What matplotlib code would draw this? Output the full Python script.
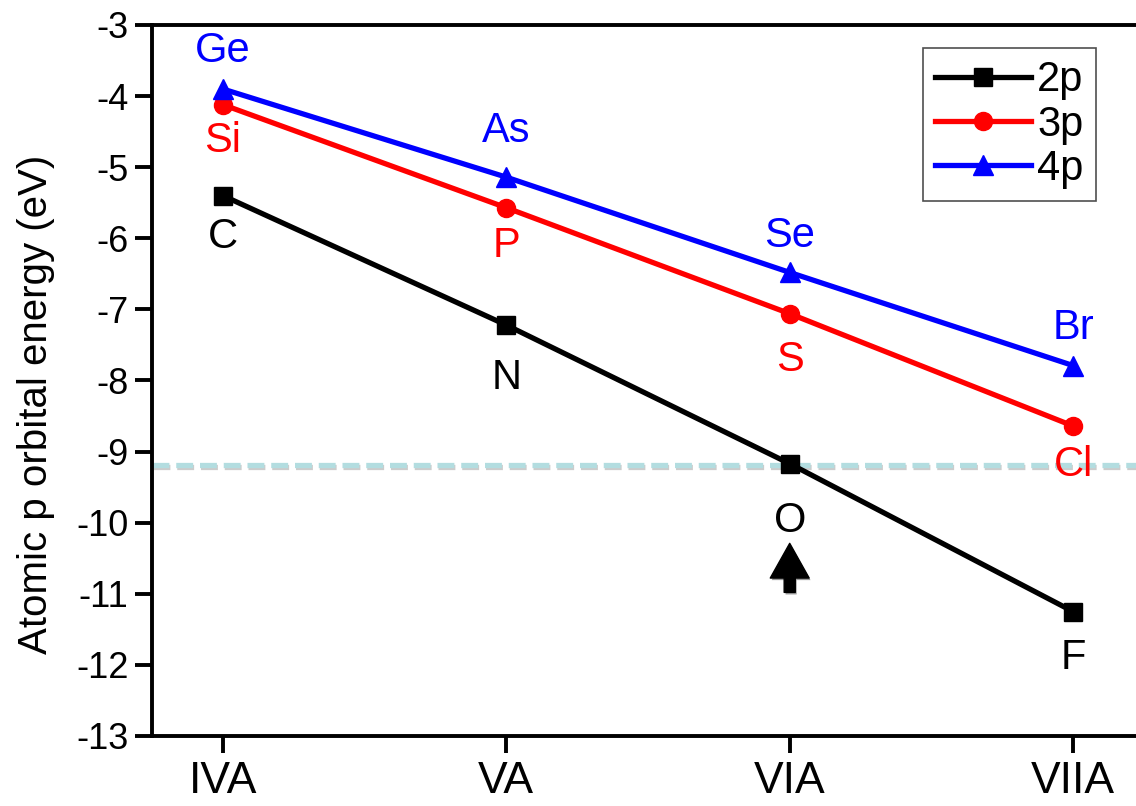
import matplotlib
matplotlib.use("Agg")
import matplotlib.pyplot as plt
import matplotlib.patheffects as pe

plt.rcParams["font.family"] = ["Liberation Sans", "DejaVu Sans"]
plt.rcParams["axes.unicode_minus"] = False

# Groups along the x axis
groups = ["IVA", "VA", "VIA", "VIIA"]

# Atomic p orbital energies (eV) for each period
e2p = [-5.40, -7.22, -9.17, -11.25]
e3p = [-4.12, -5.57, -7.06, -8.64]
e4p = [-3.90, -5.14, -6.48, -7.79]

el2p = ["C", "N", "O", "F"]
el3p = ["Si", "P", "S", "Cl"]
el4p = ["Ge", "As", "Se", "Br"]

# Reference level drawn as the dashed line (O 2p)
ref_level = -9.19

# Label offsets in pixels (negative = above the point)
off2p = [41, 53, 57, 46]
off3p = [36, 38, 46, 39]
off4p = [-38, -46, -36, -38]


def main():
    fig = plt.figure(figsize=(11.36, 8.06), dpi=100)
    frame = fig.add_axes([152/1136, 70/806, 992/1136, 711/806])

    xs = [1, 2, 3, 4]
    series = [(e2p, "black", "s", 13, "2p", el2p, off2p),
              (e3p, "red", "o", 13, "3p", el3p, off3p),
              (e4p, "blue", "^", 15, "4p", el4p, off4p)]

    for vals, col, mk, ms, lab, names, offs in series:
        frame.plot(xs, vals, color=col, marker=mk, ms=ms, lw=3.8,
                   label=lab, zorder=3)
        for x, v, n, o in zip(xs, vals, names, offs):
            frame.annotate(n, (x, v), xytext=(0, -o*0.72),
                           textcoords="offset points", ha="center",
                           va="center", color=col, fontsize=30, zorder=4)

    # Dashed reference line with a soft shadow
    shadow = [pe.SimpleLineShadow(offset=(0.5, -1.2), shadow_color="gray",
                                  alpha=0.4), pe.Normal()]
    frame.axhline(ref_level, color="#b3dde0", lw=3.8, dashes=(3.2, 1.3),
                  zorder=2, path_effects=shadow)

    # Arrow pointing up at O
    frame.annotate("", xy=(3, -10.29), xytext=(3, -10.98),
                   arrowprops=dict(facecolor="black", edgecolor="black",
                                   width=8, headwidth=28, headlength=25,
                                   shrink=0,
                                   path_effects=[pe.SimplePatchShadow(
                                       offset=(1, -1.5), alpha=0.4),
                                       pe.Normal()]))

    frame.set_xlim(0.75, 4.25)
    frame.set_ylim(-13, -3)
    frame.set_xticks(xs)
    frame.set_xticklabels(groups)
    frame.set_yticks(range(-13, -2))

    for sp in frame.spines.values():
        sp.set_linewidth(2.8)
    frame.tick_params(axis="both", width=2.8, length=12, direction="out")
    frame.tick_params(axis="x", labelsize=32, pad=6)
    frame.tick_params(axis="y", labelsize=26, pad=5)

    frame.set_ylabel("Atomic p orbital energy (eV)", fontsize=29)
    frame.yaxis.set_label_coords(-0.098, 0.467)

    leg = frame.legend(loc="upper right", bbox_to_anchor=(0.9516, 0.9677),
                       fontsize=30, frameon=True, fancybox=False,
                       handlelength=2.3, handletextpad=0.15,
                       borderpad=0.3, labelspacing=0.1, borderaxespad=0)
    leg.get_frame().set_edgecolor("#222222")
    leg.get_frame().set_linewidth(1.2)

    fig.savefig("out.png", dpi=100)


if __name__ == "__main__":
    main()
